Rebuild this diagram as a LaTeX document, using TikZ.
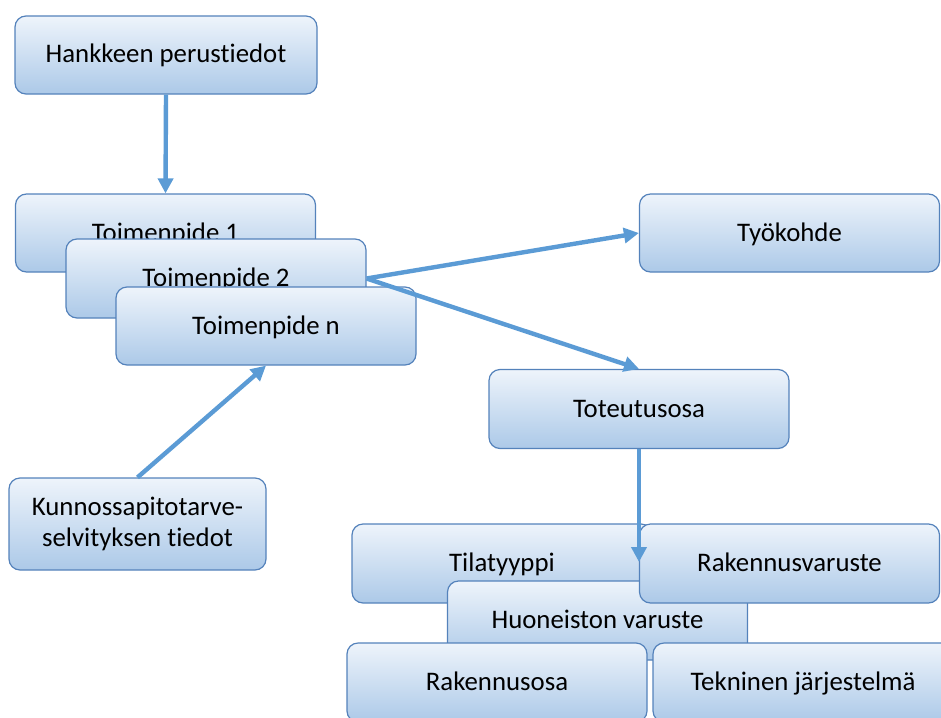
\documentclass[tikz,border=0pt]{standalone}
\usepackage{fontspec}
\setmainfont[Ligatures=NoCommon]{Carlito}
\usetikzlibrary{arrows.meta}
\definecolor{boxline}{RGB}{84,130,187}
\definecolor{boxtop}{RGB}{238,244,251}
\definecolor{boxbot}{RGB}{172,201,232}
\definecolor{arrowc}{RGB}{91,155,213}
\tikzset{
  box/.style={draw=boxline, line width=1.2pt, rounded corners=11pt,
    top color=boxtop, bottom color=boxbot, inner sep=0pt,
    minimum width=300pt, minimum height=79pt,
    font=\fontsize{26.8}{31}\selectfont, text height=20pt, text depth=4pt},
  twoline/.style={text height=, text depth=, align=center},
  conn/.style={draw=arrowc, line width=4.4pt,
    -{Triangle[length=15pt,width=15pt]}}
}
\begin{document}
\begin{tikzpicture}[x=1pt,y=-1pt]
\useasboundingbox (0,0) rectangle (941,717);
\node[box, minimum width=302pt, minimum height=78pt] (hank) at (166,55) {Hankkeen perustiedot};
\node[box, minimum height=78pt] (t1) at (165.5,233) {Toimenpide 1};
\node[box] (t2) at (216,278.5) {Toimenpide 2};
\node[box, minimum height=78pt] (tn) at (266,326) {Toimenpide n};
\node[box, minimum height=78pt] (tyo) at (789.5,233) {Työkohde};
\node[box] (tot) at (639,409) {Toteutusosa};
\node[box, twoline, minimum width=257pt, minimum height=92pt] (kun) at (137.5,524)
  {Kunnossapitotarve-\\selvityksen tiedot};
\node[box] (tila) at (502,563.5) {Tilatyyppi};
\node[box] (huon) at (597.5,620.5) {Huoneiston varuste};
\node[box] (rakv) at (789.5,563.5) {Rakennusvaruste};
\node[box] (rako) at (497,682.5) {Rakennusosa};
\node[box] (tek) at (803,682.5) {Tekninen järjestelmä};
\coordinate (tilain) at (639,562);
\path[conn] (hank.south) -- (t1.north);
\path[conn] (t2.east) -- (tyo.west);
\path[conn] (t2.east) -- (tot.north);
\path[conn] (kun.north) -- (tn.south);
\path[conn] (tot.south) -- (tilain);
\end{tikzpicture}
\end{document}
